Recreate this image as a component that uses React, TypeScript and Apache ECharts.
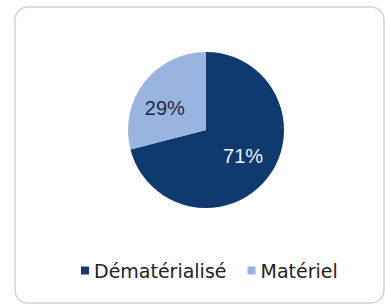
import React, { useEffect, useRef } from "react";
import * as echarts from "echarts";

const categories = ["Dématérialisé", "Matériel"];
const values = [71, 29];
const sliceColors = ["#0e3a70", "#98b5df"];
const labelColors = ["#eef2f8", "#1c2a42"];
const labelFormats = ["{c}%\n", "\n{c}%"];
const labelLineHeights = [6, 14];
const labelPadding = [
  [0, 0, 0, 0],
  [0, 8, 0, 0],
];

export default function App() {
  const ref = useRef<HTMLDivElement>(null);
  useEffect(() => {
    document.body.style.margin = "0";
    const chart = echarts.init(ref.current!, null, { renderer: "svg" });
    const data = categories.map((name, i) => ({
      name,
      value: values[i],
      itemStyle: { color: sliceColors[i] },
    }));
    const labelData = categories.map((name, i) => ({
      name,
      value: values[i],
      itemStyle: { color: "rgba(0,0,0,0)" },
      label: {
        color: labelColors[i],
        padding: labelPadding[i],
        formatter: labelFormats[i],
        lineHeight: labelLineHeights[i],
      },
    }));
    chart.setOption({
      animation: false,
      backgroundColor: "#ffffff",
      graphic: [
        {
          type: "rect",
          z: -10,
          shape: { x: 15, y: 7, width: 369, height: 296, r: 13 },
          style: { fill: "#ffffff", stroke: "#d2d2d2", lineWidth: 1.5 },
        },
      ],
      legend: {
        data: categories,
        left: 81,
        top: 261,
        padding: 0,
        icon: "rect",
        itemWidth: 8,
        itemHeight: 8,
        itemGap: 21,
        textStyle: {
          fontFamily: "DejaVu Sans",
          fontSize: 19,
          color: "#222222",
        },
        selectedMode: false,
      },
      series: [
        {
          type: "pie",
          center: [206, 130],
          radius: [0, 78],
          startAngle: 90,
          clockwise: true,
          silent: true,
          label: { show: false },
          labelLine: { show: false },
          emphasis: { disabled: true },
          data,
        },
        {
          type: "pie",
          center: [206, 130],
          radius: [0, 88],
          startAngle: 90,
          clockwise: true,
          silent: true,
          z: 5,
          label: {
            show: true,
            position: "inside",
            fontFamily: "Liberation Sans, Arial, sans-serif",
            fontSize: 20,
          },
          labelLine: { show: false },
          emphasis: { disabled: true },
          data: labelData,
        },
      ],
    });
    return () => chart.dispose();
  }, []);
  return <div ref={ref} style={{ width: 385, height: 306 }} />;
}
